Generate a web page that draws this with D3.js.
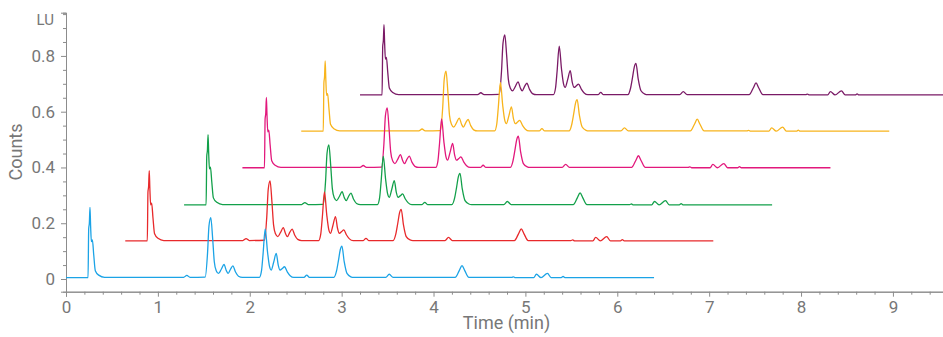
<!DOCTYPE html>
<html>
<head>
<meta charset="utf-8">
<script src="https://cdn.jsdelivr.net/npm/d3@7"></script>
<style>
  body { margin: 0; background: #fff; }
  svg text { font-family: Roboto, "Noto Sans", sans-serif; }
</style>
</head>
<body>
<div id="chart"></div>
<script>
var profile = [
  [0, 0.005], [0.24, 0.005], [0.247, 0.18], [0.254, 0.2], [0.261, 0.257], [0.268, 0.19],
  [0.276, 0.134], [0.287, 0.14], [0.302, 0.086], [0.319, 0.03], [0.356, 0.014], [0.42, 0.006],
  [1.28, 0.006], [1.315, 0.013], [1.35, 0.006],
  [1.515, 0.007], [1.54, 0.09], [1.556, 0.19], [1.576, 0.22], [1.596, 0.146], [1.614, 0.062],
  [1.635, 0.03], [1.66, 0.02], [1.69, 0.035], [1.72, 0.052], [1.745, 0.03], [1.765, 0.02],
  [1.79, 0.035], [1.816, 0.047], [1.845, 0.025], [1.877, 0.01], [1.92, 0.006],
  [2.105, 0.006], [2.128, 0.03], [2.145, 0.09], [2.168, 0.18], [2.193, 0.098], [2.215, 0.045],
  [2.233, 0.032], [2.26, 0.06], [2.288, 0.092], [2.31, 0.05], [2.33, 0.032], [2.355, 0.038],
  [2.378, 0.044], [2.41, 0.025], [2.44, 0.012], [2.48, 0.006],
  [2.59, 0.006], [2.62, 0.014], [2.65, 0.006],
  [2.915, 0.006], [2.945, 0.03], [2.966, 0.068], [2.985, 0.105], [3.003, 0.118], [3.028, 0.062],
  [3.058, 0.02], [3.1, 0.008], [3.13, 0.006],
  [3.48, 0.006], [3.518, 0.017], [3.56, 0.006],
  [4.235, 0.006], [4.28, 0.03], [4.31, 0.048], [4.34, 0.03], [4.385, 0.006],
  [4.85, 0.006], [4.87, 0.008], [4.89, 0.005],
  [5.09, 0.005], [5.12, 0.017], [5.17, 0.005], [5.24, 0.02], [5.28, 0.005],
  [5.39, 0.005], [5.41, 0.009], [5.43, 0.005],
  [6.4, 0.005]
];

// waterfall: each run shifted in time and in counts
var runs = ["Run 1", "Run 2", "Run 3", "Run 4", "Run 5", "Run 6"];
var timeOffsets = [0, 0.645, 1.285, 1.92, 2.56, 3.2];
var countOffsets = [0, 0.132, 0.261, 0.394, 0.525, 0.655];
var colors = ["#1ba3e6", "#e8292b", "#12a04a", "#e2187c", "#f8b41c", "#7a1a66"];

var xMajor = [0, 1, 2, 3, 4, 5, 6, 7, 8, 9];
var yMajor = [0, 0.2, 0.4, 0.6, 0.8];

var width = 943, height = 337;
var svg = d3.select("#chart").append("svg").attr("width", width).attr("height", height);

var x = d3.scaleLinear().domain([0, 9.545]).range([66, 943]);
var y = d3.scaleLinear().domain([-0.0455, 0.955]).range([291.7, 12.7]);

var axisColor = "#8c8c8c", textColor = "#777777";

// minor ticks
var xMinor = d3.range(0, 9.55, 0.2).filter(function(v) { return Math.abs(v - Math.round(v)) > 1e-6; });
var yMinor = d3.range(0, 0.951, 0.05).filter(function(v) { return Math.abs(v * 5 - Math.round(v * 5)) > 1e-6; });

svg.append("g").attr("transform", "translate(0,291.7)")
  .call(d3.axisBottom(x).tickValues(xMinor).tickSize(3).tickFormat(""));
svg.append("g").attr("transform", "translate(66,0)")
  .call(d3.axisLeft(y).tickValues(yMinor).tickSize(3).tickFormat(""));

svg.append("g").attr("transform", "translate(0,291.7)")
  .call(d3.axisBottom(x).tickValues(xMajor).tickSize(5).tickPadding(4).tickFormat(d3.format("d")));
svg.append("g").attr("transform", "translate(66,0)")
  .call(d3.axisLeft(y).tickValues(yMajor).tickSize(5).tickPadding(6).tickFormat(function(d) { return d === 0 ? "0" : d3.format(".1f")(d); }));

svg.selectAll(".domain, .tick line").attr("stroke", axisColor);
svg.selectAll(".tick text").attr("fill", textColor).style("font-size", "17px");

svg.append("text").attr("x", 54).attr("y", 25).attr("text-anchor", "end")
  .attr("fill", textColor).style("font-size", "15px").text("LU");
svg.append("text").attr("transform", "translate(22,152) rotate(-90)").attr("text-anchor", "middle")
  .attr("fill", textColor).style("font-size", "18px").text("Counts");
svg.append("text").attr("x", 506.5).attr("y", 329).attr("text-anchor", "middle")
  .attr("fill", textColor).style("font-size", "18px").text("Time (min)");

// traces, back run first so the front run sits on top
var line = d3.line().curve(d3.curveMonotoneX);
d3.range(runs.length - 1, -1, -1).forEach(function(i) {
  var pts = profile.map(function(p) {
    return [x(p[0] + timeOffsets[i]), y(p[1] + countOffsets[i])];
  });
  svg.append("path").attr("d", line(pts))
    .attr("fill", "none").attr("stroke", colors[i]).attr("stroke-width", 1.3)
    .attr("stroke-linejoin", "round");
});
</script>
</body>
</html>
